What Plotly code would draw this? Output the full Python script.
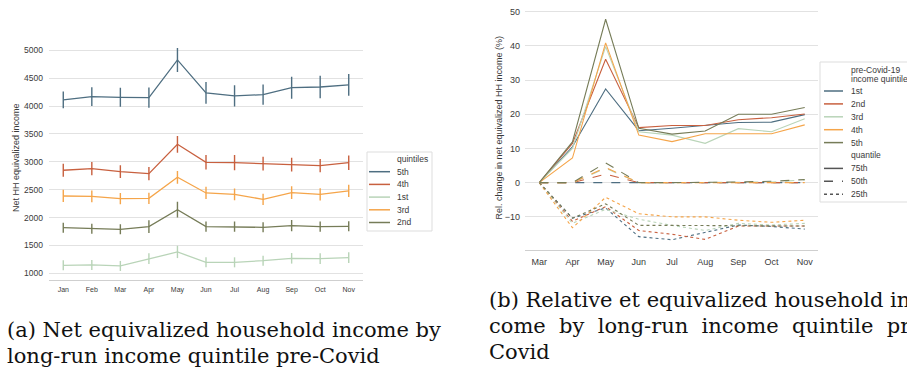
import plotly.graph_objects as go

W, H = 907, 373

# ---------------- panel (a): net equivalized HH income by quintile ----------------
months_a = ["Jan", "Feb", "Mar", "Apr", "May", "Jun", "Jul", "Aug", "Sep", "Oct", "Nov"]

inc_5th = [4110, 4170, 4157, 4151, 4827, 4235, 4181, 4205, 4330, 4342, 4378]
err_5th = [150, 168, 170, 180, 215, 195, 190, 180, 197, 200, 195]
inc_4th = [2848, 2877, 2824, 2788, 3314, 2991, 2985, 2967, 2949, 2931, 2985]
err_4th = [115, 120, 115, 120, 150, 130, 135, 125, 125, 120, 130]
inc_1st = [1143, 1150, 1132, 1263, 1383, 1197, 1197, 1227, 1269, 1263, 1281]
err_1st = [90, 90, 90, 95, 110, 90, 90, 90, 95, 95, 95]
inc_3rd = [2387, 2381, 2339, 2345, 2722, 2441, 2417, 2327, 2447, 2417, 2477]
err_3rd = [110, 105, 100, 100, 115, 110, 105, 100, 115, 110, 110]
inc_2nd = [1819, 1801, 1789, 1837, 2142, 1837, 1837, 1825, 1855, 1837, 1843]
err_2nd = [90, 90, 90, 115, 140, 90, 90, 90, 100, 90, 90]

quintiles_a = ["5th", "4th", "1st", "3rd", "2nd"]
income_a = [inc_5th, inc_4th, inc_1st, inc_3rd, inc_2nd]
errors_a = [err_5th, err_4th, err_1st, err_3rd, err_2nd]

# ---------------- panel (b): relative change by pre-Covid quintile ----------------
months_b = ["Mar", "Apr", "May", "Jun", "Jul", "Aug", "Sep", "Oct", "Nov"]

p75_1st = [0, 10.5, 27.4, 15.2, 15.9, 16.7, 17.6, 17.7, 19.9]
p75_2nd = [0, 11.5, 36.1, 16.1, 16.7, 16.7, 18.4, 19.0, 20.1]
p75_3rd = [0, 10.0, 39.8, 14.9, 13.9, 11.5, 15.8, 14.9, 18.7]
p75_4th = [0, 7.2, 40.9, 13.9, 12.0, 14.3, 14.3, 14.3, 16.9]
p75_5th = [0, 11.9, 47.8, 15.9, 14.2, 15.1, 20.0, 20.0, 22.0]

p50_1st = [0, 0, 0, 0, 0, 0, 0, 0, 0]
p50_2nd = [0, 0, 2.5, 0, 0, 0, 0, 0, 0]
p50_3rd = [0, 0, 4.2, 0, 0, 0, 0, 0.2, 0.8]
p50_4th = [0, 0, 4.4, 0, 0, 0, 0, 0, 0]
p50_5th = [0, 0, 5.8, 0, 0, 0, 0.2, 0.4, 0.9]

p25_1st = [0, -10.4, -7.4, -15.8, -16.7, -14.5, -12.4, -12.8, -13.6]
p25_2nd = [0, -11.3, -7.0, -14.0, -15.1, -16.6, -12.7, -12.7, -12.7]
p25_3rd = [0, -11.9, -7.8, -10.7, -12.5, -14.0, -11.9, -12.4, -11.9]
p25_4th = [0, -13.2, -4.3, -9.1, -10.0, -10.0, -11.0, -11.6, -11.0]
p25_5th = [0, -10.4, -6.2, -12.5, -12.5, -12.5, -12.5, -12.7, -12.7]

quintiles_b = ["1st", "2nd", "3rd", "4th", "5th"]
quantiles_b = ["75th", "50th", "25th"]
series_b = {
    "75th": [p75_1st, p75_2nd, p75_3rd, p75_4th, p75_5th],
    "50th": [p50_1st, p50_2nd, p50_3rd, p50_4th, p50_5th],
    "25th": [p25_1st, p25_2nd, p25_3rd, p25_4th, p25_5th],
}
dash_b = {"75th": "solid", "50th": "dash", "25th": "dot"}

# shared five-colour palette
palette = ["#4e6e81", "#c8603f", "#b9d4b8", "#f5a54a", "#767c58"]

TICK = "#3a3a3a"
GRID = "#e2e2e2"
SANS = "Liberation Sans, Arial, sans-serif"
SERIF = "DejaVu Serif, serif"


def px(x):
    return x / W


def py(y):
    return 1 - y / H


def label(x, y, text, size=8.5, xanchor="left", angle=0, family=SANS, color=TICK):
    return dict(x=px(x), y=py(y), xref="paper", yref="paper", showarrow=False,
                xanchor=xanchor, yanchor="middle", text=text, textangle=angle,
                font=dict(family=family, size=size, color=color))


fig = go.Figure()

for name, vals, errs, col in zip(quintiles_a, income_a, errors_a, palette):
    fig.add_trace(go.Scatter(
        x=months_a, y=vals, mode="lines", name=name, showlegend=False,
        line=dict(color=col, width=1.3),
        error_y=dict(type="data", array=errs, visible=True, color=col,
                     thickness=1.4, width=0),
        xaxis="x", yaxis="y",
    ))

for q in quantiles_b:
    for name, vals, col in zip(quintiles_b, series_b[q], palette):
        fig.add_trace(go.Scatter(
            x=months_b, y=vals, mode="lines", name=f"{name} {q}", showlegend=False,
            line=dict(color=col, width=1.1, dash=dash_b[q]),
            xaxis="x2", yaxis="y2",
        ))

fig.update_layout(
    width=W, height=H,
    margin=dict(l=0, r=0, t=0, b=0),
    paper_bgcolor="white", plot_bgcolor="white",
    showlegend=False,
    xaxis=dict(domain=[px(49), px(363)], type="category", range=[-0.5, 10.5],
               showgrid=False, showline=True, linecolor="#cfcfcf", linewidth=1,
               zeroline=False, ticks="", ticklabelstandoff=3,
               tickfont=dict(family=SANS, size=7, color=TICK), anchor="y"),
    yaxis=dict(domain=[py(280), py(43.6)], range=[880, 5120],
               tickvals=[1000, 1500, 2000, 2500, 3000, 3500, 4000, 4500, 5000],
               showgrid=True, gridcolor=GRID, gridwidth=1,
               showline=False, zeroline=False, ticks="",
               ticklabelstandoff=5, anchor="x",
               tickfont=dict(family=SANS, size=8.5, color=TICK)),
    xaxis2=dict(domain=[px(525), px(818)], type="category", range=[-0.43, 8.4],
                showgrid=False, showline=True, linecolor="#cfcfcf", linewidth=1,
                zeroline=False, ticks="", ticklabelstandoff=3,
                tickfont=dict(family=SANS, size=9, color=TICK), anchor="y2"),
    yaxis2=dict(domain=[py(250), py(6.6)], range=[-19.7, 51.5],
                tickvals=[-10, 0, 10, 20, 30, 40, 50],
                ticktext=["\u221210", "0", "10", "20", "30", "40", "50"],
                showgrid=True, gridcolor=GRID, gridwidth=1,
                showline=False, zeroline=False, ticks="",
                ticklabelstandoff=4, anchor="x2",
                tickfont=dict(family=SANS, size=9, color=TICK)),
)

ann = []
shapes = []

# axis titles
ann.append(label(16, 158, "Net HH equivalized income", size=9, xanchor="center", angle=-90))
ann.append(label(498, 127.5, "Rel. change in net equivalized HH income (%)", size=9,
                 xanchor="center", angle=-90))

# legend for panel (a)
shapes.append(dict(type="rect", xref="paper", yref="paper",
                   x0=px(367), x1=px(432), y0=py(231), y1=py(152),
                   line=dict(color="#dddddd", width=1), fillcolor="white", layer="above"))
leg_a_top, leg_a_step = 159.0, 12.7
ann.append(label(395, leg_a_top, "quintiles"))
for i, (name, col) in enumerate(zip(quintiles_a, palette)):
    yy = leg_a_top + leg_a_step * (i + 1)
    shapes.append(dict(type="line", xref="paper", yref="paper",
                       x0=px(369), x1=px(390), y0=py(yy), y1=py(yy),
                       line=dict(color=col, width=1.5), layer="above"))
    ann.append(label(395, yy, name))

# legend for panel (b)
shapes.append(dict(type="rect", xref="paper", yref="paper",
                   x0=px(820), x1=px(930), y0=py(202), y1=py(62),
                   line=dict(color="#dddddd", width=1), fillcolor="white", layer="above"))
ann.append(label(849, 70.0, "pre-Covid-19"))
ann.append(label(849, 78.7, "income quintile"))
leg_b_top, leg_b_step = 91.0, 12.9
row = 0
for name, col in zip(quintiles_b, palette):
    yy = leg_b_top + leg_b_step * row
    shapes.append(dict(type="line", xref="paper", yref="paper",
                       x0=px(824), x1=px(843), y0=py(yy), y1=py(yy),
                       line=dict(color=col, width=1.5), layer="above"))
    ann.append(label(849, yy, name))
    row += 1
ann.append(label(849, leg_b_top + leg_b_step * row, "quantile"))
row += 1
for q in quantiles_b:
    yy = leg_b_top + leg_b_step * row
    shapes.append(dict(type="line", xref="paper", yref="paper",
                       x0=px(824), x1=px(843), y0=py(yy), y1=py(yy),
                       line=dict(color="#555555", width=1.5, dash=dash_b[q]), layer="above"))
    ann.append(label(849, yy, q))
    row += 1

# captions (justified text of (b) runs past the page edge)
cap_a = ["(a) Net equivalized household income by",
         "long-run income quintile pre-Covid"]
cap_b = ["(b) Relative et equivalized household in-",
         "come  by  long-run  income  quintile  pre-",
         "Covid"]
for txt, yy in zip(cap_a, [330, 356]):
    ann.append(label(5, yy, txt, size=21, family=SERIF, color="#111111"))
for txt, yy in zip(cap_b, [300, 326, 352]):
    ann.append(label(487, yy, txt, size=21, family=SERIF, color="#111111"))

fig.update_layout(annotations=ann, shapes=shapes)
fig.write_html("out.html")
